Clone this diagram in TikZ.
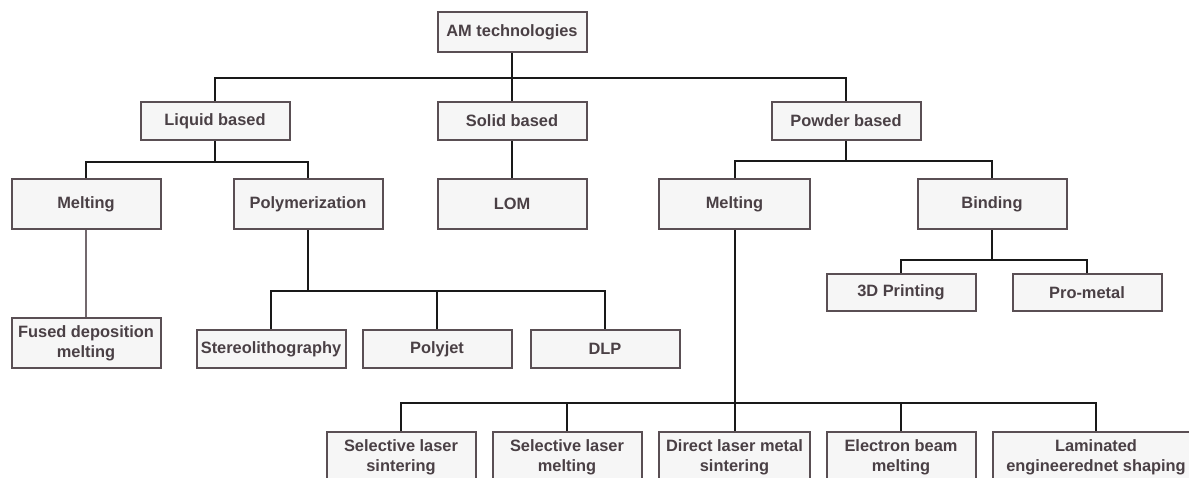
\documentclass[tikz,border=0pt]{standalone}
\usepackage{fontspec}
\setmainfont{Liberation Sans}
\definecolor{boxline}{HTML}{5A4F54}
\definecolor{boxfill}{HTML}{F6F6F6}
\definecolor{boxtext}{HTML}{4A4045}
\tikzset{
  tech/.style={draw=boxline, fill=boxfill, line width=2pt, text=boxtext,
    font=\bfseries\fontsize{16.4}{20}\selectfont, align=center, inner sep=1pt,
    minimum width=149pt, minimum height=#1},
  tech/.default=38pt,
  link/.style={line width=2pt, draw=black!90}
}
\begin{document}
\begin{tikzpicture}[x=1pt, y=-1pt]
  \useasboundingbox (0,0) rectangle (1189,477);
  \clip (0,0) rectangle (1189,477);
  % root and the three families
  \node[tech=40pt] (am) at (512,32) {AM technologies};
  \node[tech] (liquid) at (215,121) {Liquid based};
  \node[tech] (solid) at (512,121) {Solid based};
  \node[tech] (powder) at (846,121) {Powder based};
  % processes
  \node[tech=50pt] (melt) at (86,204) {Melting};
  \node[tech=50pt] (poly) at (308,204) {Polymerization};
  \node[tech=50pt] (lom) at (512,204) {LOM};
  \node[tech=50pt, minimum width=151pt] (pmelt) at (734.5,204) {Melting};
  \node[tech=50pt] (bind) at (992,204) {Binding};
  % liquid based machines
  \node[tech=50pt] (fdm) at (86,343) {Fused deposition\\melting};
  \foreach \n/\x/\t in {stereo/271/Stereolithography, polyjet/437/Polyjet, dlp/605/DLP}
    \node[tech] (\n) at (\x,349) {\t};
  % binding machines
  \node[tech=37pt] (print3d) at (901,292.5) {3D Printing};
  \node[tech=37pt] (prometal) at (1087,292.5) {Pro-metal};
  % powder melting machines
  \node[tech=50pt] (sls) at (401,457) {Selective laser\\sintering};
  \node[tech=50pt] (slm) at (567,457) {Selective laser\\melting};
  \node[tech=50pt, minimum width=151pt] (dlms) at (734.5,457) {Direct laser metal\\sintering};
  \node[tech=50pt] (ebm) at (901,457) {Electron beam\\melting};
  \node[tech=50pt, minimum width=206pt] (lens) at (1096,457) {Laminated\\engineerednet shaping};
  % connectors
  \draw[link] (am.south) -- ++(0,25) -| (liquid.north);
  \draw[link] (am.south) -- ++(0,25) -| (powder.north);
  \draw[link] (am) -- (solid);
  \foreach \c in {melt,poly}
    \draw[link] (liquid.south) -- ++(0,21) -| (\c.north);
  \draw[link] (solid) -- (lom);
  \foreach \c in {pmelt,bind}
    \draw[link] (powder.south) -- ++(0,20) -| (\c.north);
  \draw[link, draw=boxline!85] (melt) -- (fdm);
  \foreach \c in {stereo,polyjet,dlp}
    \draw[link] (poly.south) -- ++(0,61) -| (\c.north);
  \foreach \c in {print3d,prometal}
    \draw[link] (bind.south) -- ++(0,30) -| (\c.north);
  \foreach \c in {sls,slm,dlms,ebm,lens}
    \draw[link] (pmelt.south) -- ++(0,173) -| (\c.north);
\end{tikzpicture}
\end{document}
